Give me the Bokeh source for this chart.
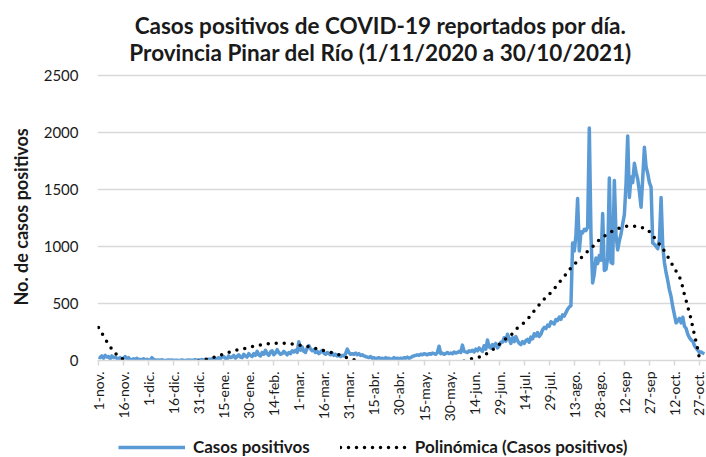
from math import pi
from bokeh.plotting import figure
from bokeh.layouts import column
from bokeh.models import Label, Legend, LegendItem, FixedTicker, Title
from bokeh.embed import file_html
from bokeh.resources import INLINE

# Daily reported positive cases, 1-nov-2020 .. 30-oct-2021
nov = [30, 25, 40, 20, 45, 30, 35, 15, 40, 25, 30, 20, 15, 25, 10, 20, 35, 15, 25, 10,
       5, 15, 10, 20, 5, 10, 5, 15, 5, 10]
dic = [5, 3, 25, 8, 5, 2, 4, 3, 6, 2, 1, 3, 5, 2, 4, 1, 2, 3, 1, 2, 4, 2, 1, 3, 5, 2,
       3, 4, 6, 3, 5]
ene = [5, 8, 4, 10, 6, 12, 8, 15, 10, 20, 12, 25, 15, 30, 35, 20, 15, 40, 25, 30, 45, 20,
       35, 50, 30, 25, 55, 40, 30, 60, 45]
feb = [35, 60, 45, 80, 50, 40, 70, 55, 90, 60, 45, 75, 85, 50, 65, 95, 70, 55, 60, 80,
       65, 50, 70, 60, 85, 75, 90, 70]
mar = [165, 90, 120, 80, 70, 110, 130, 100, 85, 95, 70, 80, 60, 75, 90, 65, 55, 70, 60,
       50, 65, 45, 55, 40, 50, 35, 45, 40, 60, 100, 70]
abr = [55, 60, 55, 65, 50, 60, 45, 50, 40, 35, 30, 25, 35, 20, 25, 15, 20, 25, 15, 20,
       10, 25, 15, 20, 10, 15, 25, 15, 20, 15]
may = [20, 15, 25, 20, 30, 20, 25, 35, 40, 45, 50, 45, 55, 50, 60, 55, 50, 60, 55, 65,
       60, 55, 70, 125, 60, 65, 55, 60, 70, 60, 65]
jun = [60, 75, 65, 70, 80, 70, 135, 80, 75, 70, 85, 80, 90, 75, 100, 85, 110, 95, 80, 130,
       100, 180, 120, 110, 140, 125, 150, 110, 130, 160]
jul = [160, 200, 170, 230, 190, 150, 200, 165, 210, 175, 150, 140, 165, 150, 175, 185, 160,
       205, 190, 235, 215, 245, 210, 230, 270, 290, 280, 310, 300, 340, 330]
ago = [320, 360, 350, 380, 360, 400, 390, 420, 450, 470, 480, 1030, 960, 1100, 1420, 960,
       1130, 1120, 1150, 1140, 1170, 2040, 1100, 680, 760, 900, 850, 920, 880, 1290, 790]
sep = [800, 900, 1600, 860, 850, 1580, 1100, 970, 1050, 1110, 1200, 1280, 1550, 1970, 1430,
       1610, 1560, 1730, 1650, 1590, 1480, 1345, 1600, 1870, 1700, 1640, 1560, 1520, 1030, 1020]
octu = [1000, 980, 1060, 1430, 1000, 860, 770, 700, 620, 560, 470, 400, 330, 350, 370, 330,
        380, 300, 280, 230, 200, 180, 170, 130, 110, 90, 70, 75, 65, 60]

casos = nov + dic + ene + feb + mar + abr + may + jun + jul + ago + sep + octu
dias = list(range(len(casos)))

# Polynomial trendline ("Polinómica") (below 0 it is hidden)
trend_dias = [0, 3, 5, 8, 11, 15, 20, 30, 40, 50, 60, 63, 67, 71, 75, 79, 83, 87, 92, 97,
              101, 106, 110, 115, 120, 125, 129, 134, 138, 143, 147, 151, 155, 170, 190,
              210, 221, 223, 228, 232, 236, 239, 243, 247, 250, 254, 257, 260, 263, 266,
              270, 273, 276, 279, 282, 285, 289, 292, 296, 299, 303, 307, 311, 315, 320,
              325, 329, 332, 335, 338, 340.5, 343, 345.5, 348, 349.5, 350.7, 352.2, 353.4,
              354.7, 355.7, 356.7, 357.7, 358.7, 359.7, 361, 363]
trend_vals = [290, 215, 165, 100, 48, 8, -40, -90, -80, -50, -5, 5, 18, 35, 57, 77, 92, 103,
              121, 136, 145, 152, 153, 146, 136, 125, 110, 90, 75, 55, 33, 13, 0, -60, -90,
              -40, 0, 13, 30, 56, 92, 128, 180, 220, 273, 320, 360, 418, 470, 524, 580, 630,
              685, 738, 795, 845, 900, 944, 997, 1046, 1090, 1128, 1157, 1178, 1180, 1170,
              1149, 1095, 1040, 982, 924, 860, 795, 734, 670, 594, 515, 448, 378, 311, 243,
              180, 116, 39, -60, -200]

tick_days = list(range(0, 361, 15))
tick_labels = ["1-nov.", "16-nov.", "1-dic.", "16-dic.", "31-dic.", "15-ene.", "30-ene.",
               "14-feb.", "1-mar.", "16-mar.", "31-mar.", "15-abr.", "30-abr.", "15-may.",
               "30-may.", "14-jun.", "29-jun.", "14-jul.", "29-jul.", "13-ago.", "28-ago.",
               "12-sep", "27-sep", "12-oct.", "27-oct."]
y_ticks = [0, 500, 1000, 1500, 2000, 2500]

FONT = "Lato"
TXT = "#1a1a1a"
BLUE = "#5B9BD5"

# main chart: the frame runs up to the top of the canvas so the title sits inside it;
# 2500 lands 285 px above the 0 line
p = figure(width=706, height=426, output_backend="svg", toolbar_location=None,
           x_range=(-0.6, 364.2), y_range=(0, 2500 * 360 / 285),
           min_border_left=92, min_border_right=0, min_border_top=0, min_border_bottom=66)
p.outline_line_color = None

p.xgrid.visible = False
p.ygrid.grid_line_color = "#D9D9D9"
p.ygrid.grid_line_width = 1.5
p.ygrid.ticker = FixedTicker(ticks=y_ticks)
p.yaxis.ticker = FixedTicker(ticks=y_ticks)
p.yaxis.axis_line_color = None
p.yaxis.major_tick_line_color = None
p.yaxis.minor_tick_line_color = None
p.yaxis.major_label_text_font = FONT
p.yaxis.major_label_text_font_size = "15px"
p.yaxis.major_label_text_color = TXT
p.yaxis.major_label_standoff = 13

p.add_layout(Title(text="No. de casos positivos", align="left", offset=55,
                   vertical_align="middle", standoff=16, text_font=FONT,
                   text_font_size="18px", text_font_style="bold", text_color=TXT), "left")

p.xaxis.ticker = FixedTicker(ticks=tick_days)
p.xaxis.major_label_overrides = {d: l for d, l in zip(tick_days, tick_labels)}
p.xaxis.major_label_orientation = pi / 2
p.xaxis.major_label_text_font = FONT
p.xaxis.major_label_text_font_size = "14px"
p.xaxis.major_label_text_color = TXT
p.xaxis.major_label_standoff = 6
p.xaxis.axis_line_color = "#D9D9D9"
p.xaxis.axis_line_width = 1.5
p.xaxis.major_tick_line_color = "#D9D9D9"
p.xaxis.major_tick_line_width = 1.5
p.xaxis.major_tick_out = 5
p.xaxis.major_tick_in = 0
p.xaxis.minor_tick_line_color = None

p.line(dias, casos, line_color=BLUE, line_width=3.5, line_join="round")
p.line(trend_dias, trend_vals, line_color="black", line_width=3.5,
       line_dash="0 8", line_cap="round", line_join="round")

for txt, yy in [("Casos positivos de COVID-19 reportados por día.", 335),
                ("Provincia Pinar del Río (1/11/2020 a 30/10/2021)", 308)]:
    p.add_layout(Label(x=283, y=yy, x_units="screen", y_units="screen", text=txt,
                       text_align="center", text_baseline="middle", text_font=FONT,
                       text_font_size="22.5px", text_font_style="bold", text_color=TXT))

# legend strip under the chart (its renderers carry the same series, out of its view);
# its frame is aligned with the chart's frame by the column layout
pl = figure(width=706, height=31, output_backend="svg", toolbar_location=None,
            x_axis_type=None, y_axis_type=None, x_range=(0, 1), y_range=(5000, 5001),
            min_border=0)
pl.outline_line_color = None
pl.grid.visible = False
s1 = pl.line(dias, casos, line_color=BLUE, line_width=3.5)
s2 = pl.line(trend_dias, trend_vals, line_color="black", line_width=3.5,
             line_dash="0 8", line_cap="round")
legend = Legend(items=[LegendItem(label="Casos positivos", renderers=[s1]),
                       LegendItem(label="Polinómica (Casos positivos)", renderers=[s2])],
                location=(21, 0), orientation="horizontal", margin=0, padding=0,
                spacing=30, glyph_width=67, glyph_height=18, label_height=18,
                label_standoff=8, label_text_font=FONT, label_text_font_size="17px",
                label_text_font_style="bold", label_text_color=TXT,
                border_line_color=None, background_fill_alpha=0)
pl.add_layout(legend)

open("out.html", "w").write(file_html(column(p, pl, spacing=0), INLINE))
